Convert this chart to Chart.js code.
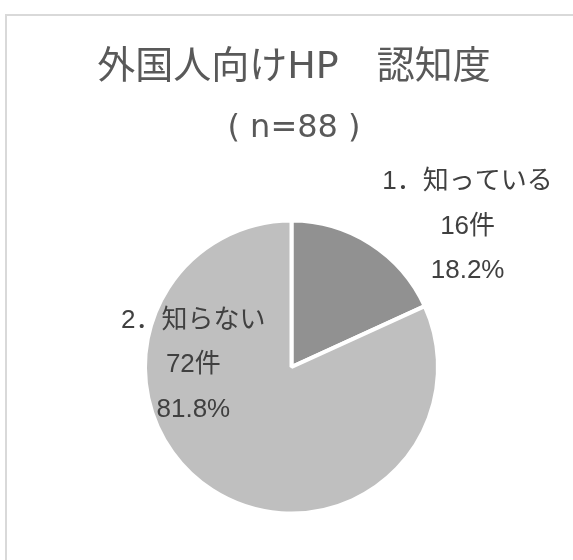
<!DOCTYPE html>
<html>
<head>
<meta charset="utf-8">
<script src="https://cdn.jsdelivr.net/npm/chart.js@4/dist/chart.umd.min.js"></script>
<style>
    html, body { margin: 0; padding: 0; background: #fff; overflow: hidden; }
    #wrap { position: relative; width: 573px; height: 560px; }
    #frame { position: absolute; left: 5px; top: 14px; width: 700px; height: 700px; border: 2px solid #d9d9d9; box-sizing: border-box; }
    #pie { position: absolute; left: 0; top: 0; }
</style>
</head>
<body>
<div id="wrap">
    <div id="frame"></div>
    <canvas id="pie" width="573" height="560"></canvas>
</div>
<script>
// chart data
const titleLines = ['外国人向けHP　認知度', '( n=88 )'];
const categories = ['1．知っている', '2．知らない'];
const counts = [16, 72];
const sliceColors = ['#919191', '#bfbfbf'];

const FONT = '"Liberation Sans", Arial, "Noto Sans CJK JP", sans-serif';
const TITLE_FONT = '"DejaVu Sans", "Noto Sans CJK JP", sans-serif';

// title drawn by hand (two lines, different sizes)
const titlePlugin = {
    id: 'headTitle',
    afterDraw(chart, args, opts) {
        const ctx = chart.ctx;
        ctx.save();
        ctx.fillStyle = '#595959';
        ctx.textAlign = 'center';
        ctx.textBaseline = 'middle';
        titleLines.forEach((t, i) => {
            ctx.font = opts.sizes[i] + 'px ' + TITLE_FONT;
            ctx.fillText(t, opts.x, opts.ys[i]);
        });
        ctx.restore();
    }
};

// category / count / percent labels per slice
const labelPlugin = {
    id: 'sliceLabels',
    afterDatasetsDraw(chart, args, opts) {
        const ctx = chart.ctx;
        const meta = chart.getDatasetMeta(0);
        const total = counts.reduce((a, b) => a + b, 0);
        ctx.save();
        ctx.font = '26px ' + FONT;
        ctx.fillStyle = '#404040';
        ctx.textAlign = 'center';
        ctx.textBaseline = 'middle';
        meta.data.forEach((arc, i) => {
            const [fx, fy] = opts.anchors[i];
            const x = arc.x + arc.outerRadius * fx;
            const y = arc.y + arc.outerRadius * fy;
            const lines = [
                categories[i],
                counts[i] + '件',
                (counts[i] / total * 100).toFixed(1) + '%'
            ];
            lines.forEach((t, j) => ctx.fillText(t, x, y + (j - 1) * opts.lineGap));
        });
        ctx.restore();
    }
};

const ctx = document.getElementById('pie').getContext('2d');
new Chart(ctx, {
    type: 'pie',
    data: {
        labels: categories,
        datasets: [{
            data: counts,
            backgroundColor: sliceColors,
            borderColor: '#ffffff',
            borderWidth: 4
        }]
    },
    options: {
        responsive: false,
        animation: false,
        layout: {
            padding: { top: 218.5, bottom: 44.5, left: 143, right: 133 }
        },
        plugins: {
            legend: { display: false },
            tooltip: { enabled: false },
            title: { display: false },
            headTitle: { x: 294, ys: [68.5, 129], sizes: [38, 32] },
            sliceLabels: {
                anchors: [[1.202, -0.96], [-0.67, -0.013]],
                lineGap: 44.5
            }
        }
    },
    plugins: [labelPlugin, titlePlugin]
});
</script>
</body>
</html>
